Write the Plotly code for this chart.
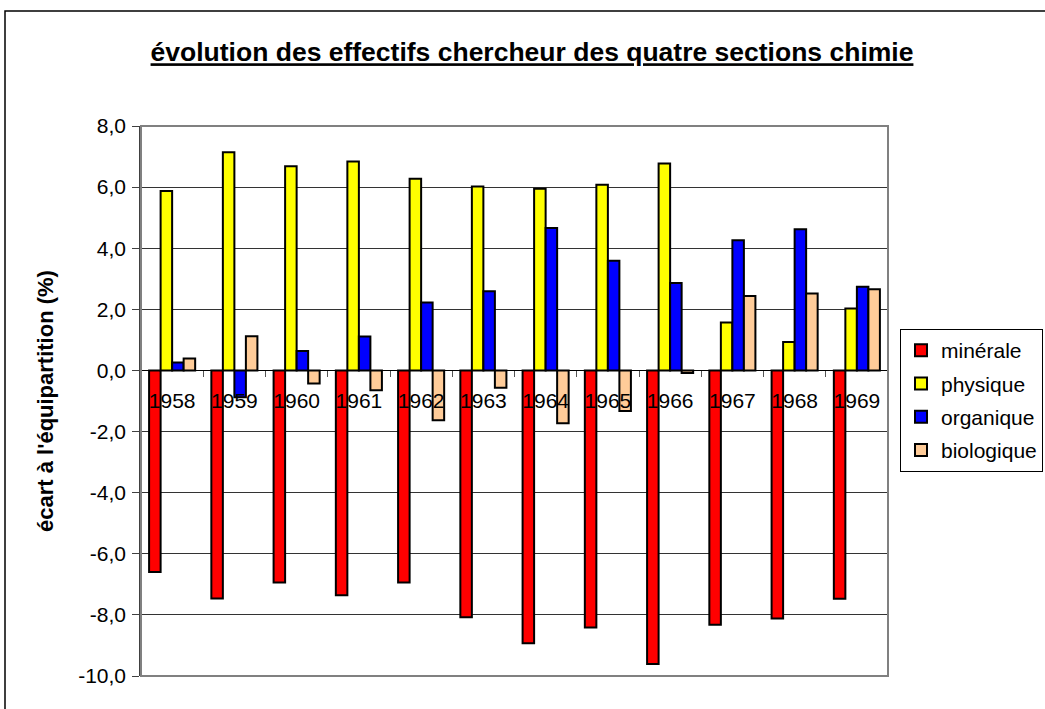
import plotly.graph_objects as go

# Years and deviation from equal share (%) for the four chemistry sections
years = ["1958", "1959", "1960", "1961", "1962", "1963",
         "1964", "1965", "1966", "1967", "1968", "1969"]
minerale = [-6.60, -7.46, -6.94, -7.36, -6.94, -8.08, -8.93, -8.41, -9.61, -8.32, -8.12, -7.47]
physique = [5.87, 7.14, 6.68, 6.84, 6.27, 6.02, 5.95, 6.08, 6.77, 1.57, 0.93, 2.03]
organique = [0.26, -0.88, 0.64, 1.11, 2.22, 2.59, 4.66, 3.59, 2.86, 4.26, 4.62, 2.74]
biologique = [0.39, 1.12, -0.43, -0.65, -1.63, -0.57, -1.73, -1.33, -0.08, 2.44, 2.52, 2.66]

y_ticks = [8, 6, 4, 2, 0, -2, -4, -6, -8, -10]

series = [
    ("minérale", minerale, "#FF0000"),
    ("physique", physique, "#FFFF00"),
    ("organique", organique, "#0000FF"),
    ("biologique", biologique, "#FFCC99"),
]

FONT = "Liberation Sans, Arial, sans-serif"
W, H = 1045, 709
L, R, T, B = 141, 157, 126, 33
y_min, y_max = -10, 8

fig = go.Figure()
for name, vals, col in series:
    fig.add_trace(go.Bar(
        x=years, y=vals, name=name, legendgroup=name,
        marker=dict(color=col, line=dict(color="black", width=2)),
    ))

pw = W - L - R
ph = H - T - B

def px_x(p):
    return (p - L) / pw

def px_y(p):
    return (H - B - p) / ph

# French-style labels: decimal comma and a plain hyphen for negatives
y_ticktext = [f"{v:.1f}".replace(".", ",") for v in y_ticks]

fig.update_layout(
    width=W, height=H,
    margin=dict(l=L, r=R, t=T, b=B, pad=0, autoexpand=False),
    paper_bgcolor="white", plot_bgcolor="white",
    font=dict(family=FONT, size=21, color="black"),
    barmode="group", bargap=0.26, bargroupgap=0,
    showlegend=True,
    legend=dict(
        x=px_x(900), y=px_y(329), xanchor="left", yanchor="top",
        bgcolor="white", bordercolor="black", borderwidth=1,
        font=dict(family=FONT, size=21, color="black"),
        tracegroupgap=3,
    ),
    title=dict(
        text="<b><u>évolution des effectifs chercheur des quatre sections chimie</u></b>",
        x=532 / W, xanchor="center", xref="container",
        y=1 - 52 / H, yanchor="middle", yref="container",
        font=dict(family=FONT, size=26.5, color="black"),
    ),
    xaxis=dict(
        type="category",
        anchor="free", position=(0 - y_min) / (y_max - y_min),
        showline=True, linecolor="black", linewidth=1,
        ticks="outside", tickson="boundaries", ticklen=6, tickcolor="#555555",
        tickfont=dict(family=FONT, size=21, color="black"),
        ticklabelstandoff=11,
        showgrid=False, zeroline=False,
    ),
    yaxis=dict(
        range=[y_min, y_max],
        tickmode="array", tickvals=y_ticks, ticktext=y_ticktext,
        showline=True, linecolor="#404040", linewidth=1.5,
        ticks="outside", ticklen=7, tickcolor="#404040",
        tickfont=dict(family=FONT, size=21, color="black"),
        ticklabelstandoff=2,
        showgrid=True, gridcolor="#333333", gridwidth=1,
        zeroline=False,
    ),
)

# Y-axis title
fig.add_annotation(
    text="<b>écart à l'équipartition (%)</b>",
    xref="paper", yref="paper", x=px_x(45), y=0.5,
    xanchor="center", yanchor="middle", textangle=-90, showarrow=False,
    font=dict(family=FONT, size=22, color="black"),
)

# Plot-area frame and outer chart frame
fig.add_shape(type="rect", xref="paper", yref="paper", x0=0, y0=0, x1=1, y1=1,
              line=dict(color="#808080", width=2), layer="above")
fig.add_shape(type="rect", xref="paper", yref="paper",
              x0=px_x(5), y0=px_y(720), x1=px_x(1060), y1=px_y(11),
              line=dict(color="black", width=1.5), layer="below")

fig.write_html("out.html")
